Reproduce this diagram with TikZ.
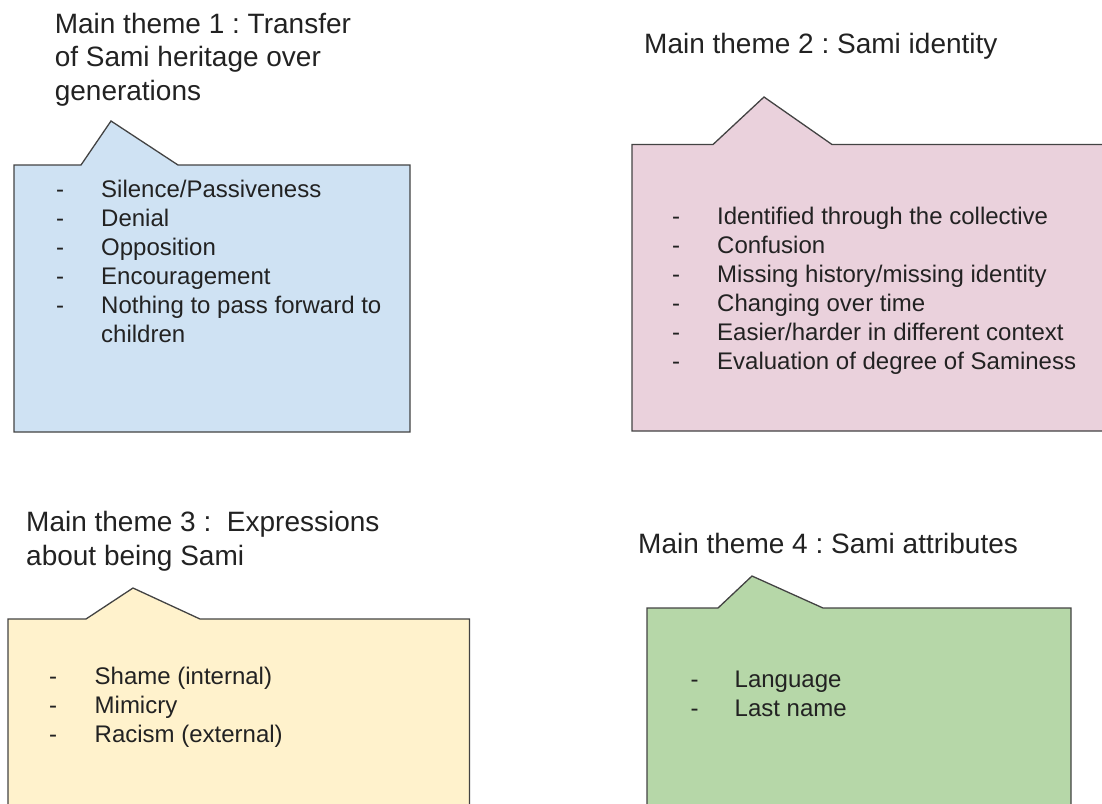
\documentclass[tikz,border=0pt]{standalone}
\usepackage{fontspec}
\setmainfont{Liberation Sans}
\frenchspacing
\newcommand\ttlsize{\fontsize{28}{33.4}\selectfont}
\newcommand\bdysize{\fontsize{24}{29}\selectfont}
\definecolor{cblue}{HTML}{CFE2F3}
\definecolor{cpink}{HTML}{EAD1DC}
\definecolor{cyellow}{HTML}{FFF2CC}
\definecolor{cgreen}{HTML}{B6D7A8}
\definecolor{cborder}{HTML}{434343}
\definecolor{ctext}{HTML}{222222}
\tikzset{
  callout/.style={draw=cborder, line width=1.3pt, line join=miter},
  titletext/.style={anchor=base west, inner sep=0pt, text=ctext, font=\ttlsize},
  listtext/.style={anchor=base west, inner sep=0pt, text=ctext, font=\bdysize},
}
\begin{document}
\begin{tikzpicture}[x=1pt,y=-1pt]
\useasboundingbox (0,0) rectangle (1102,803);
\clip (0,0) rectangle (1102,803);

% callout shapes
\draw[callout, fill=cblue] (14,165) -- (81,165) -- (111,121) -- (178,165) -- (410,165) -- (410,432) -- (14,432) -- cycle;
\draw[callout, fill=cpink] (632,144.5) -- (713,144.5) -- (764,97) -- (832,144.5) -- (1112,144.5) -- (1112,431) -- (632,431) -- cycle;
\draw[callout, fill=cyellow] (8,619) -- (86,619) -- (133,588) -- (200,619) -- (469.5,619) -- (469.5,830) -- (8,830) -- cycle;
\draw[callout, fill=cgreen] (647,608) -- (718,608) -- (752,576) -- (823,608) -- (1071,608) -- (1071,830) -- (647,830) -- cycle;

% titles
\node[titletext] (t1) at (54.6,33.3) {\begin{tabular}[t]{@{}l@{}}Main theme 1 : Transfer\\of Sami heritage over\\generations\end{tabular}};
\node[titletext] (t2) at (644,53.3) {Main theme 2 : Sami identity};
\node[titletext] (t3) at (26,531.7) {\begin{tabular}[t]{@{}l@{}}Main theme 3 :\ \ Expressions\\about being Sami\end{tabular}};
\node[titletext] (t4) at (638,553.3) {Main theme 4 : Sami attributes};

% lists
\node[listtext] (l1) at (56,197.7) {\begin{tabular}[t]{@{}p{45pt}@{}l@{}}
-&Silence/Passiveness\\
-&Denial\\
-&Opposition\\
-&Encouragement\\
-&Nothing to pass forward to\\
&children\end{tabular}};
\node[listtext] (l2) at (672,224.3) {\begin{tabular}[t]{@{}p{45pt}@{}l@{}}
-&Identified through the collective\\
-&Confusion\\
-&Missing history/missing identity\\
-&Changing over time\\
-&Easier/harder in different context\\
-&Evaluation of degree of Saminess\end{tabular}};
\node[listtext] (l3) at (49,684.3) {\begin{tabular}[t]{@{}p{45.5pt}@{}l@{}}
-&Shame (internal)\\
-&Mimicry\\
-&Racism (external)\end{tabular}};
\node[listtext] (l4) at (690.5,687.7) {\begin{tabular}[t]{@{}p{44pt}@{}l@{}}
-&Language\\
-&Last name\end{tabular}};
\end{tikzpicture}
\end{document}
